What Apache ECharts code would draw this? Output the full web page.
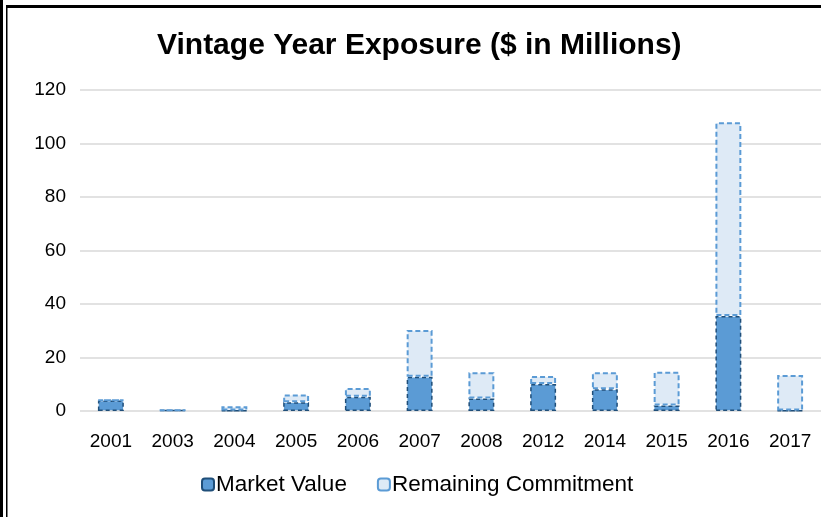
<!DOCTYPE html>
<html>
<head>
<meta charset="utf-8">
<script src="https://cdn.jsdelivr.net/npm/echarts@6/dist/echarts.min.js"></script>
<style>
  html, body {margin: 0; padding: 0; background: #fff;}
  #chart {width: 821px; height: 517px;}
</style>
</head>
<body>
<div id="chart"></div>
<script>
const years = ['2001', '2003', '2004', '2005', '2006', '2007', '2008', '2012', '2014', '2015', '2016', '2017'];
const marketValue = [3.9, 0.3, 0.2, 3.3, 5.3, 12.8, 4.7, 10.1, 8.1, 2.1, 35.5, 0.2];
const remainingCommitment = [0.2, 0, 1.6, 2.9, 3.3, 17.5, 9.8, 3.0, 6.4, 12.6, 72.4, 13.3];

const chart = echarts.init(document.getElementById('chart'));
const font = 'Liberation Sans, Arial, sans-serif';

chart.setOption({
  backgroundColor: '#fff',
  animation: false,
  textStyle: {fontFamily: font},
  title: {
    text: 'Vintage Year Exposure ($ in Millions)',
    left: 152,
    top: 26,
    textStyle: {fontFamily: font, fontSize: 30, fontWeight: 'bold', color: '#000'}
  },
  legend: {
    bottom: 16,
    left: 196,
    itemWidth: 12,
    itemHeight: 12,
    itemGap: 30,
    textStyle: {fontFamily: font, fontSize: 22.5, color: '#000', padding: [0, 0, 0, -3]},
    data: ['Market Value', 'Remaining Commitment']
  },
  grid: {left: 80, right: -4, top: 90, bottom: 106, containLabel: false},
  xAxis: {
    type: 'category',
    data: years,
    axisTick: {show: false},
    axisLine: {show: false},
    axisLabel: {fontFamily: font, fontSize: 19, color: '#000', margin: 21}
  },
  yAxis: {
    type: 'value',
    min: 0,
    max: 120,
    interval: 20,
    axisLine: {show: false},
    axisTick: {show: false},
    axisLabel: {fontFamily: font, fontSize: 19, color: '#000', margin: 14},
    splitLine: {lineStyle: {color: '#D9D9D9', width: 1.5}}
  },
  series: [
    {
      name: 'Market Value',
      type: 'bar',
      stack: 'total',
      barWidth: '42%',
      data: marketValue,
      itemStyle: {color: '#5B9BD5', borderColor: '#1F4E79', borderWidth: 1.5, borderType: [4, 3]}
    },
    {
      name: 'Remaining Commitment',
      type: 'bar',
      stack: 'total',
      barWidth: '42%',
      data: remainingCommitment,
      itemStyle: {color: '#DEEAF6', borderColor: '#5B9BD5', borderWidth: 2, borderType: [5, 3]}
    }
  ],
  graphic: [
    {type: 'rect', shape: {x: 0, y: 0, width: 3, height: 517}, style: {fill: '#000'}},
    {type: 'rect', shape: {x: 6, y: 5, width: 1.5, height: 512}, style: {fill: '#000'}},
    {type: 'rect', shape: {x: 6, y: 5, width: 815, height: 3}, style: {fill: '#000'}}
  ]
});
</script>
</body>
</html>
